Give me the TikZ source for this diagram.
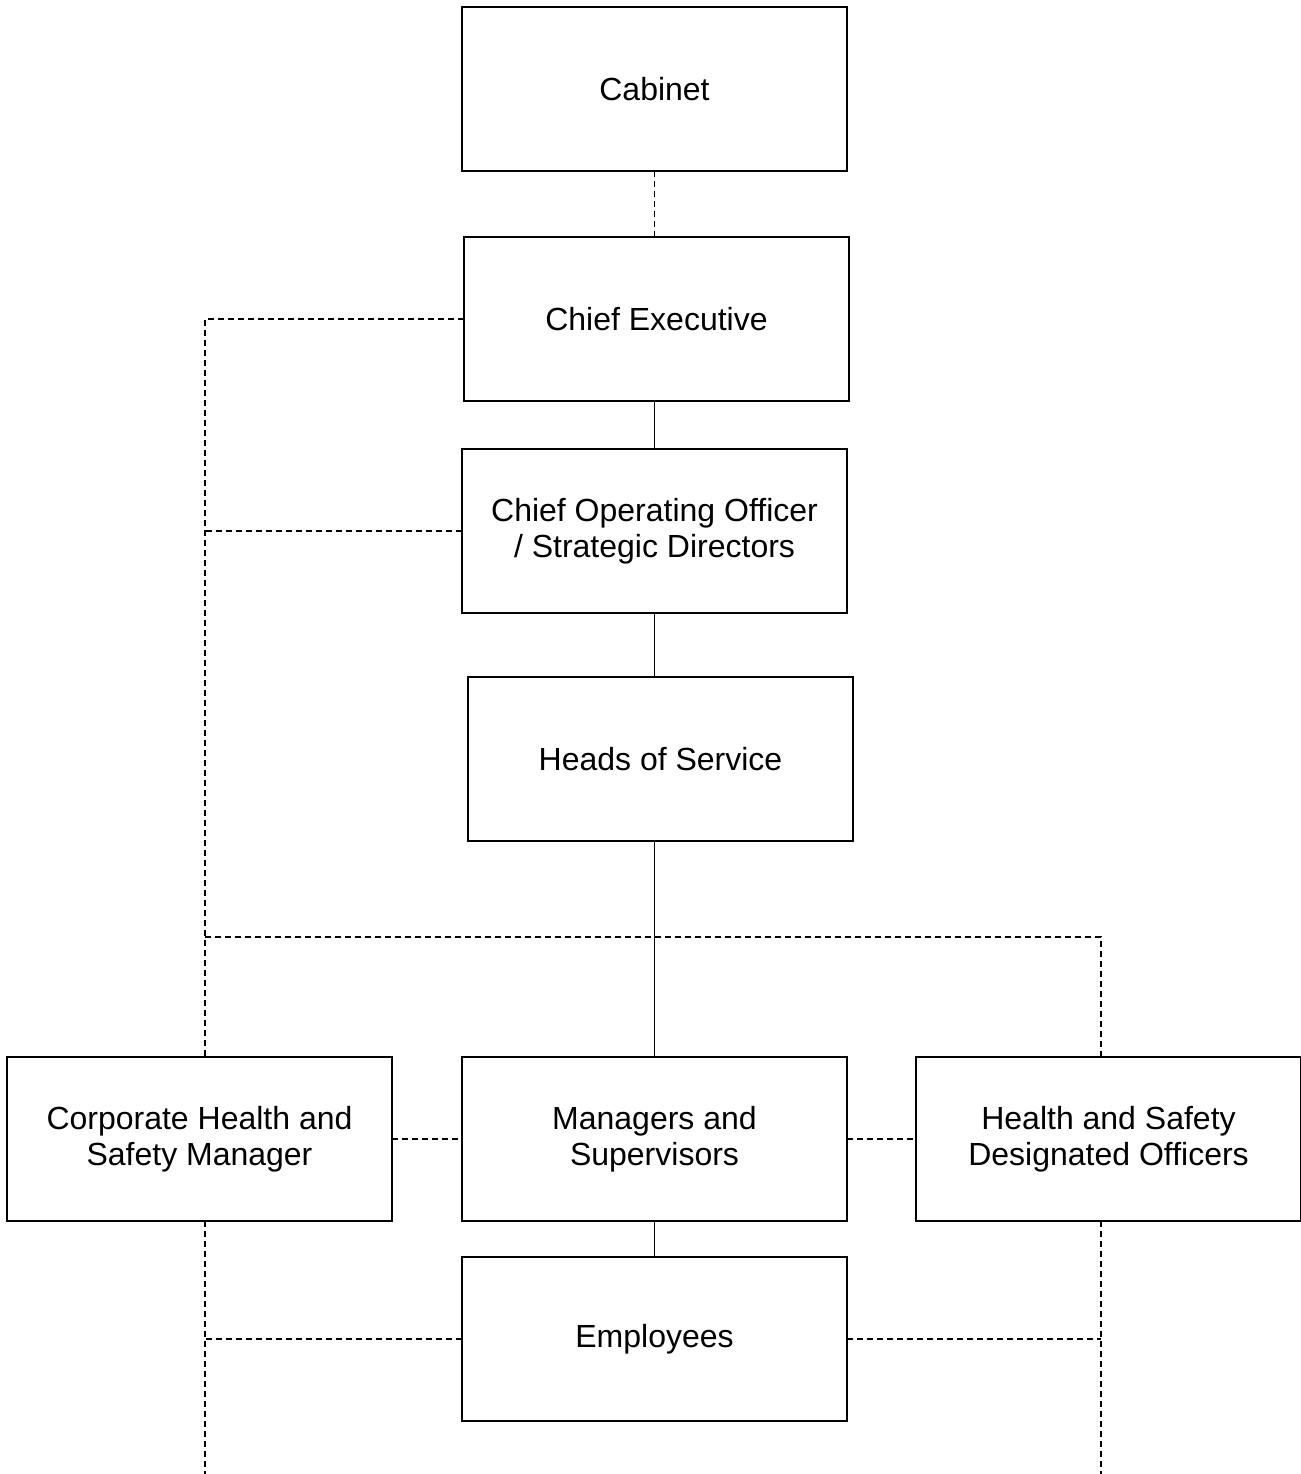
\documentclass[tikz,border=0pt]{standalone}
\usepackage{fontspec}
\setmainfont{Liberation Sans}
\usetikzlibrary{positioning}

\begin{document}
\begin{tikzpicture}[x=0.75pt,y=-0.75pt,line width=1.4pt,
		base node/.style={rectangle,draw,align=center,outer sep=0pt,minimum width=288.75pt,
			minimum height=123pt,font=\fontsize{24pt}{27pt}\selectfont},
		dashed line/.style={line width=1.2pt,dash pattern=on 4.5pt off 3pt}]
		\useasboundingbox (0,0) rectangle (1301,1474);
		
		\node[base node] (cab) at (654.5,89) {Cabinet};
		\node[base node] (ce) [below=49.5pt of cab,xshift=1.5pt] {Chief Executive};
		\node[base node] (coo) [below=36pt of ce,xshift=-1.5pt] {Chief Operating Officer\\ / Strategic Directors};
		\node[base node] (hos) [below=48pt of coo,xshift=4.5pt] {Heads of Service};
		\node[base node] (mgr) [below=162pt of hos,xshift=-4.5pt] {Managers and\\ Supervisors};
		\node[base node] (chsm) [left=52.5pt of mgr] {Corporate Health and\\ Safety Manager};
		\node[base node] (hsdo) [right=51.75pt of mgr] {Health and Safety\\ Designated Officers};
		\node[base node] (emp) [below=27pt of mgr] {Employees};
		
		\coordinate (lcol) at (205,937);
		\coordinate (rcol) at (1101,937);
		\coordinate (bot) at (0,1474);
		
		% line management
		\draw (ce.south -| coo.north) -- (coo.north);
		\draw (coo.south) -- (coo.south |- hos.north);
		\draw (mgr.north |- hos.south) -- (mgr.north);
		\draw (mgr) -- (emp);
		
		% advice and reporting
		\draw[dashed line] (cab) -- (cab.south |- ce.north);
		\draw[dashed line] (ce.west) -| (lcol |- chsm.north);
		\draw[dashed line] (coo.west) -- (coo.west -| lcol);
		\draw[dashed line] (lcol) -| (rcol |- hsdo.north);
		\draw[dashed line] (chsm) -- (mgr);
		\draw[dashed line] (mgr) -- (hsdo);
		\draw[dashed line] (lcol |- chsm.south) -- (lcol |- bot);
		\draw[dashed line] (rcol |- hsdo.south) -- (rcol |- bot);
		\draw[dashed line] (emp.west) -- (emp.west -| lcol);
		\draw[dashed line] (emp.east) -- (emp.east -| rcol);
\end{tikzpicture}
\end{document}
